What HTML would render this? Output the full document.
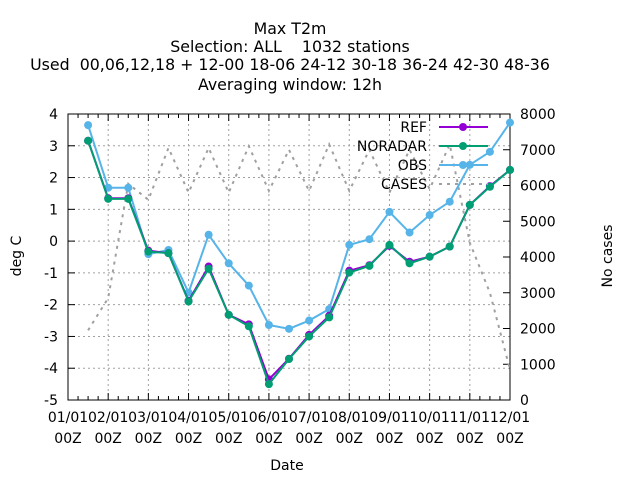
<!DOCTYPE html>
<html><head><meta charset="utf-8"><style>
body{margin:0;background:#fff}
svg{font-family:"DejaVu Sans","Liberation Sans",sans-serif}
</style></head><body>
<svg id="chart" width="640" height="480" viewBox="0 0 640 480" xmlns="http://www.w3.org/2000/svg">
<g font-size="15.8" text-anchor="middle" fill="#000">
<text x="290" y="34" xml:space="preserve">Max T2m</text>
<text x="290" y="52" xml:space="preserve">Selection: ALL    1032 stations</text>
<text x="290" y="70" xml:space="preserve">Used  00,06,12,18 + 12-00 18-06 24-12 30-18 36-24 42-30 48-36</text>
<text x="290" y="90" xml:space="preserve">Averaging window: 12h</text>
</g>
<g id="grid"></g>
<g id="axes"></g>
<g id="series"></g>
<g id="legend"></g>
<text x="21" y="256" font-size="14" text-anchor="middle" transform="rotate(-90 21 256)">deg C</text>
<text x="612" y="256" font-size="14" text-anchor="middle" transform="rotate(-90 612 256)">No cases</text>
<text x="287" y="470" font-size="14" text-anchor="middle">Date</text>
</svg>
<script>
const xTickLabels=["01/01","02/01","03/01","04/01","05/01","06/01","07/01","08/01","09/01","10/01","11/01","12/01"];
const yTicks=[4,3,2,1,0,-1,-2,-3,-4,-5];
const y2Ticks=[0,1000,2000,3000,4000,5000,6000,7000,8000];
const refVals=[3.16,1.35,1.35,-0.3,-0.38,-1.88,-0.8,-2.32,-2.62,-4.35,-3.7,-2.95,-2.35,-0.93,-0.76,-0.15,-0.65,-0.49,-0.17,1.14,1.73,2.24];
const noradarVals=[3.16,1.33,1.33,-0.33,-0.38,-1.9,-0.87,-2.32,-2.68,-4.5,-3.71,-3.0,-2.4,-0.99,-0.78,-0.12,-0.7,-0.49,-0.17,1.14,1.71,2.24];
const obsVals=[3.65,1.68,1.68,-0.41,-0.28,-1.62,0.2,-0.7,-1.4,-2.64,-2.76,-2.5,-2.14,-0.12,0.06,0.92,0.27,0.82,1.24,2.4,2.81,3.73];
const casesVals=[1950,2850,6050,5600,7050,5800,7050,5800,7100,5850,7000,5850,7150,5850,7000,5800,7000,5900,7150,4400,3000,850];
const L=68,R=510,T=114,B=400;
const NS="http://www.w3.org/2000/svg";
function xMonth(m){return L+m*(R-L)/11;}
function xIdx(i){return L+(i+1)*(R-L)/22;}
function yL(v){return T+(4-v)*(B-T)/9;}
function yR(v){return B-v*(B-T)/8000;}
function mk(tag,attrs,parent){const e=document.createElementNS(NS,tag);for(const k in attrs)e.setAttribute(k,attrs[k]);parent.appendChild(e);return e;}
const grid=document.getElementById('grid'),axes=document.getElementById('axes'),series=document.getElementById('series'),legend=document.getElementById('legend');
xTickLabels.forEach((t,i)=>{const x=xMonth(i);
 if(i>0&&i<11){const g=mk('line',{x1:x,x2:x,y1:T,y2:B,stroke:'#a0a0a0','stroke-dasharray':'2,3'},grid);}
 mk('line',{x1:x,x2:x,y1:B,y2:B-7,stroke:'#000'},axes);mk('line',{x1:x,x2:x,y1:T,y2:T+7,stroke:'#000'},axes);
 const tx=mk('text',{x:x,y:422,'font-size':14,'text-anchor':'middle'},axes);tx.textContent=t;
 
 const tz=mk('text',{x:x,y:443,'font-size':14,'text-anchor':'middle'},axes);tz.textContent='00Z';
 
 if(i<11){for(let k=1;k<4;k++){const xm=x+k*(R-L)/44;mk('line',{x1:xm,x2:xm,y1:B,y2:B-4,stroke:'#000'},axes);mk('line',{x1:xm,x2:xm,y1:T,y2:T+4,stroke:'#000'},axes);}}
});
yTicks.forEach(v=>{const y=yL(v);
 if(v<4&&v>-5){const g=mk('line',{x1:L,x2:R,y1:y,y2:y,stroke:'#a0a0a0','stroke-dasharray':'2,3'},grid);}
 mk('line',{x1:L,x2:L+7,y1:y,y2:y,stroke:'#000'},axes);
 const tx=mk('text',{x:58,y:y+5,'font-size':14,'text-anchor':'end'},axes);tx.textContent=v;
 
});
y2Ticks.forEach(v=>{const y=yR(v);
 mk('line',{x1:R-7,x2:R,y1:y,y2:y,stroke:'#000'},axes);
 const tx=mk('text',{x:520,y:y+5,'font-size':14,'text-anchor':'start'},axes);tx.textContent=v;
 
});
const frame=mk('rect',{x:L,y:T,width:R-L,height:B-T,fill:'none',stroke:'#000','stroke-width':1},axes);

const cp=mk('polyline',{points:casesVals.map((v,i)=>xIdx(i)+','+yR(v)).join(' '),fill:'none',stroke:'#a0a0a0','stroke-width':2,'stroke-dasharray':'3,5'},series);

function drawSeries(vals,color,name){
 const p=mk('polyline',{points:vals.map((v,i)=>xIdx(i)+','+yL(v)).join(' '),fill:'none',stroke:color,'stroke-width':2},series);
 
 vals.forEach((v,i)=>{const c=mk('circle',{cx:xIdx(i),cy:yL(v),r:4,fill:color},series);
  });
}
drawSeries(obsVals,'#56b4e9','obs');
drawSeries(refVals,'#9400d3','ref');
drawSeries(noradarVals,'#009e73','noradar');
const leg=[["REF","#9400d3",0],["NORADAR","#009e73",0],["OBS","#56b4e9",0],["CASES","#a0a0a0",1]];
leg.forEach((e,i)=>{const y=127+i*19;
 const t=mk('text',{x:427,y:y+5,'font-size':14,'text-anchor':'end'},legend);t.textContent=e[0];
 
 if(e[2]){mk('line',{x1:439,x2:488,y1:y,y2:y,stroke:e[1],'stroke-width':2,'stroke-dasharray':'3,5'},legend);}
 else{mk('line',{x1:439,x2:488,y1:y,y2:y,stroke:e[1],'stroke-width':2},legend);mk('circle',{cx:463,cy:y,r:4,fill:e[1]},legend);}
});
</script>
</body></html>
